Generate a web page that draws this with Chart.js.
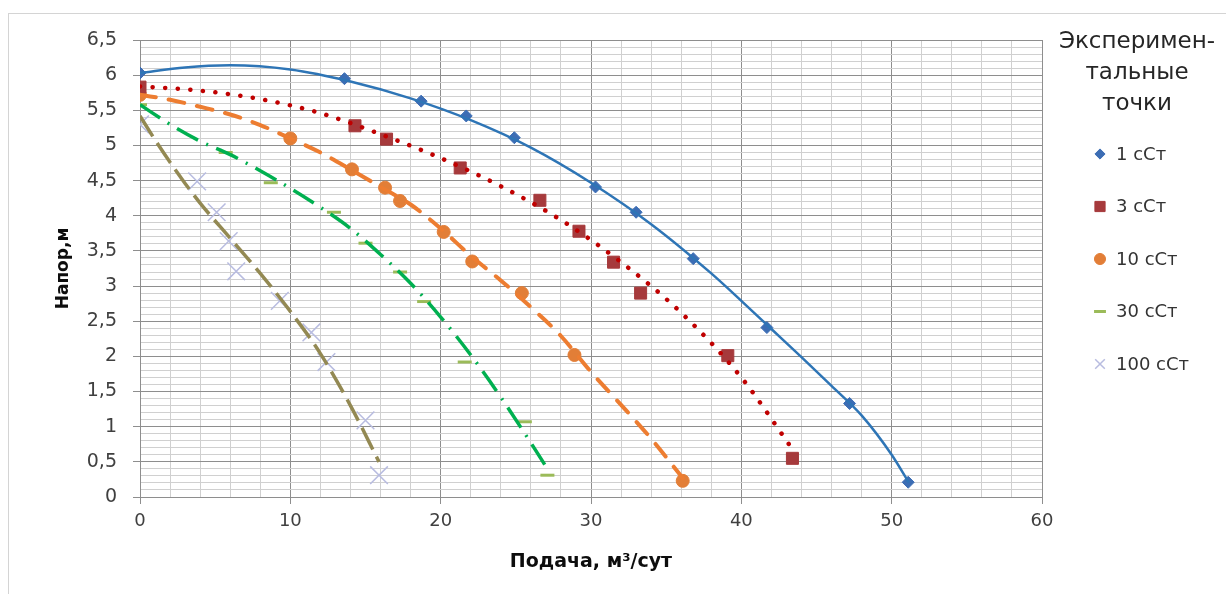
<!DOCTYPE html>
<html><head><meta charset="utf-8">
<script src="https://cdn.jsdelivr.net/npm/chart.js@4.4.1/dist/chart.umd.min.js"></script>
<style>
html,body{margin:0;padding:0;background:#fff;overflow:hidden;}
#wrap{position:relative;width:1226px;height:594px;overflow:hidden;}
#frame{position:absolute;left:8px;top:13px;width:1240px;height:620px;border:1px solid #d4d4d4;box-sizing:border-box;}
#c{position:absolute;left:0;top:0;}
</style></head><body>
<div id="wrap"><div id="frame"></div><canvas id="c" width="1226" height="594"></canvas></div>
<script>
// ---- texts ----
const seriesNames = ['1 сСт', '3 сСт', '10 сСт', '30 сСт', '100 сСт'];
const legendTitle = ['Эксперимен-', 'тальные', 'точки'];
const xTitle = 'Подача, м³/сут';
const yTitle = 'Напор,м';

// ---- experimental points (Q, m3/day ; H, m) ----
const q1   = [0, 13.6, 18.7, 21.7, 24.9, 30.3, 33.0, 36.8, 41.7, 47.2, 51.1];
const h1   = [6.03, 5.95, 5.63, 5.42, 5.11, 4.41, 4.05, 3.39, 2.41, 1.33, 0.21];
const q3   = [0, 14.3, 16.4, 21.3, 26.6, 29.2, 31.5, 33.3, 39.1, 43.4];
const h3   = [5.83, 5.28, 5.09, 4.68, 4.22, 3.78, 3.34, 2.90, 2.01, 0.55];
const q10  = [0, 10.0, 14.1, 16.3, 17.3, 20.2, 22.1, 25.4, 28.9, 36.1];
const h10  = [5.72, 5.10, 4.66, 4.40, 4.21, 3.77, 3.35, 2.90, 2.02, 0.23];
const q30  = [0, 5.7, 8.7, 12.9, 15.0, 17.3, 18.9, 21.6, 25.6, 27.1];
const h30  = [5.58, 4.90, 4.47, 4.05, 3.61, 3.20, 2.78, 1.92, 1.07, 0.31];
const q100 = [0, 3.8, 5.1, 5.9, 6.4, 9.3, 11.4, 12.4, 15.0, 15.9];
const h100 = [5.30, 4.49, 4.05, 3.64, 3.21, 2.79, 2.34, 1.92, 1.09, 0.31];

// ---- trend curves ----
const t1x   = [0, 3, 6, 10, 14, 18, 22, 26, 30, 34, 38, 40, 42, 44, 46, 48, 50, 51.1];
const t1y   = [6.03, 6.11, 6.14, 6.08, 5.91, 5.67, 5.36, 4.97, 4.47, 3.88, 3.18, 2.79, 2.39, 1.99, 1.58, 1.16, 0.60, 0.22];
const t3x   = [0, 4, 8, 12, 16, 20, 24, 28, 32, 36, 40, 43.4];
const t3y   = [5.84, 5.78, 5.66, 5.46, 5.16, 4.82, 4.42, 3.94, 3.34, 2.62, 1.70, 0.68];
const t10x  = [0, 2, 4, 6, 8, 10, 12, 14, 16, 18, 20, 22, 24, 26, 28, 30, 32, 34, 36.1];
const t10y  = [5.72, 5.65, 5.55, 5.44, 5.29, 5.10, 4.90, 4.66, 4.41, 4.16, 3.82, 3.43, 3.08, 2.70, 2.29, 1.78, 1.31, 0.83, 0.27];
const t30x  = [0, 2, 4, 6, 8, 10, 12, 14, 16, 18, 20, 22, 24, 26, 27.1];
const t30y  = [5.58, 5.30, 5.06, 4.87, 4.64, 4.39, 4.12, 3.82, 3.45, 3.04, 2.56, 2.02, 1.42, 0.77, 0.40];
const t100x = [0, 1, 2, 3, 4, 6, 8, 10, 12, 14, 15.9];
const t100y = [5.42, 5.08, 4.76, 4.46, 4.18, 3.68, 3.18, 2.64, 2.04, 1.30, 0.50];

// ---- axis settings ----
const xMin = 0, xMax = 60, xStep = 2, xMajor = 10;
const yMin = 0, yMax = 6.5, yStep = 0.1, yMajor = 0.5;

const pts = (xs, ys) => xs.map((x, i) => ({x: x, y: ys[i]}));
const isMul = (v, m) => { const r = v / m; return Math.abs(r - Math.round(r)) < 1e-6; };
const fmt = v => String(Math.round(v * 10) / 10).replace('.', ',');
const MAJ = '#8e8e8e', MIN = '#d0d0d0';
const FONT = 'DejaVu Sans';

const trend = (xs, ys, color, width, dash, cap) => ({
  data: pts(xs, ys), showLine: true, fill: false, pointRadius: 0, pointHitRadius: 0,
  borderColor: color, borderWidth: width, borderDash: dash, borderCapStyle: cap || 'butt',
  cubicInterpolationMode: 'monotone', isTrend: true
});
const marks = (name, xs, ys, style, r, fillC, lineC, bw) => ({
  label: name, data: pts(xs, ys), showLine: false, pointStyle: style, pointRadius: r,
  pointBackgroundColor: fillC, pointBorderColor: lineC, pointBorderWidth: bw,
  backgroundColor: fillC, borderColor: lineC, borderWidth: bw
});

const datasets = [
  trend(t1x, t1y, '#2E75B6', 2.5, [], 'round'),
  trend(t3x, t3y, '#C00000', 4.5, [0.1, 12.5], 'round'),
  trend(t10x, t10y, '#ED7D31', 4, [16, 13], 'round'),
  trend(t30x, t30y, '#00B050', 3.5, [24, 9, 2, 9], 'butt'),
  trend(t100x, t100y, '#938953', 3.5, [24, 8], 'butt'),
  marks(seriesNames[0], q1, h1, 'rectRot', 6, '#3C6DB4', '#3C6DB4', 1),
  marks(seriesNames[1], q3, h3, 'rect', 8.5, '#A63A3C', '#A63A3C', 1),
  marks(seriesNames[2], q10, h10, 'circle', 6.5, '#E27E37', '#E27E37', 1),
  marks(seriesNames[3], q30, h30, 'line', 7, '#9BBB59', '#9BBB59', 3),
  marks(seriesNames[4], q100, h100, 'crossRot', 12.5, '#B8BCE0', '#B8BCE0', 1.5)
];

const sideLegend = {
  id: 'sideLegend',
  afterDraw(chart) {
    const ctx = chart.ctx;
    ctx.save();
    ctx.fillStyle = '#262626';
    ctx.font = '23px "' + FONT + '"';
    ctx.textAlign = 'center';
    ctx.textBaseline = 'middle';
    legendTitle.forEach((t, i) => ctx.fillText(t, 1137, 42 + i * 31));
    const ms = chart.data.datasets.filter(d => !d.isTrend);
    ms.forEach((d, i) => {
      const y = 154 + i * 52.5;
      ctx.fillStyle = d.backgroundColor;
      ctx.strokeStyle = d.borderColor;
      ctx.lineWidth = d.borderWidth;
      Chart.helpers.drawPoint(ctx, {pointStyle: d.pointStyle, radius: Math.min(d.pointRadius, 8.5) * (d.pointStyle === 'crossRot' ? 0.8 : 0.85), rotation: 0, borderWidth: d.borderWidth}, 1100, y);
      ctx.fillStyle = '#333';
      ctx.font = '18px "' + FONT + '"';
      ctx.textAlign = 'left';
      ctx.fillText(d.label, 1116, y + 1);
    });
    ctx.restore();
  }
};

new Chart(document.getElementById('c'), {
  type: 'scatter',
  data: {datasets: datasets},
  plugins: [sideLegend],
  options: {
    responsive: false, animation: false, events: [],
    layout: {padding: {left: 0, right: 184, top: 40, bottom: 0}},
    plugins: {legend: {display: false}, tooltip: {enabled: false}},
    scales: {
      x: {
        type: 'linear', min: xMin, max: xMax,
        afterFit: s => { s.height = 97; },
        ticks: {stepSize: xStep, autoSkip: false, maxRotation: 0, padding: 7, color: '#404040',
                font: {family: FONT, size: 18}, callback: v => isMul(v, xMajor) ? fmt(v) : ''},
        grid: {color: c => isMul(c.tick.value, xMajor) ? MAJ : MIN,
               tickColor: c => isMul(c.tick.value, xMajor) ? MAJ : 'rgba(0,0,0,0)', tickLength: 7, lineWidth: 1},
        border: {color: MAJ, width: 1},
        title: {display: true, text: xTitle, color: '#0d0d0d', font: {family: FONT, size: 19, weight: 'bold'},
                padding: {top: 0, bottom: 21}}
      },
      y: {
        type: 'linear', min: yMin, max: yMax,
        afterFit: s => { s.width = 140; },
        ticks: {stepSize: yStep, autoSkip: false, padding: 16, color: '#404040',
                font: {family: FONT, size: 19}, callback: v => isMul(v, yMajor) ? fmt(v) : ''},
        grid: {color: c => isMul(c.tick.value, yMajor) ? MAJ : MIN,
               tickColor: c => isMul(c.tick.value, yMajor) ? MAJ : 'rgba(0,0,0,0)', tickLength: 7, lineWidth: 1},
        border: {color: MAJ, width: 1},
        title: {display: true, text: yTitle, color: '#0d0d0d', font: {family: FONT, size: 17, weight: 'bold'},
                padding: {top: 53, bottom: 0}}
      }
    }
  }
});
</script>
</body></html>
